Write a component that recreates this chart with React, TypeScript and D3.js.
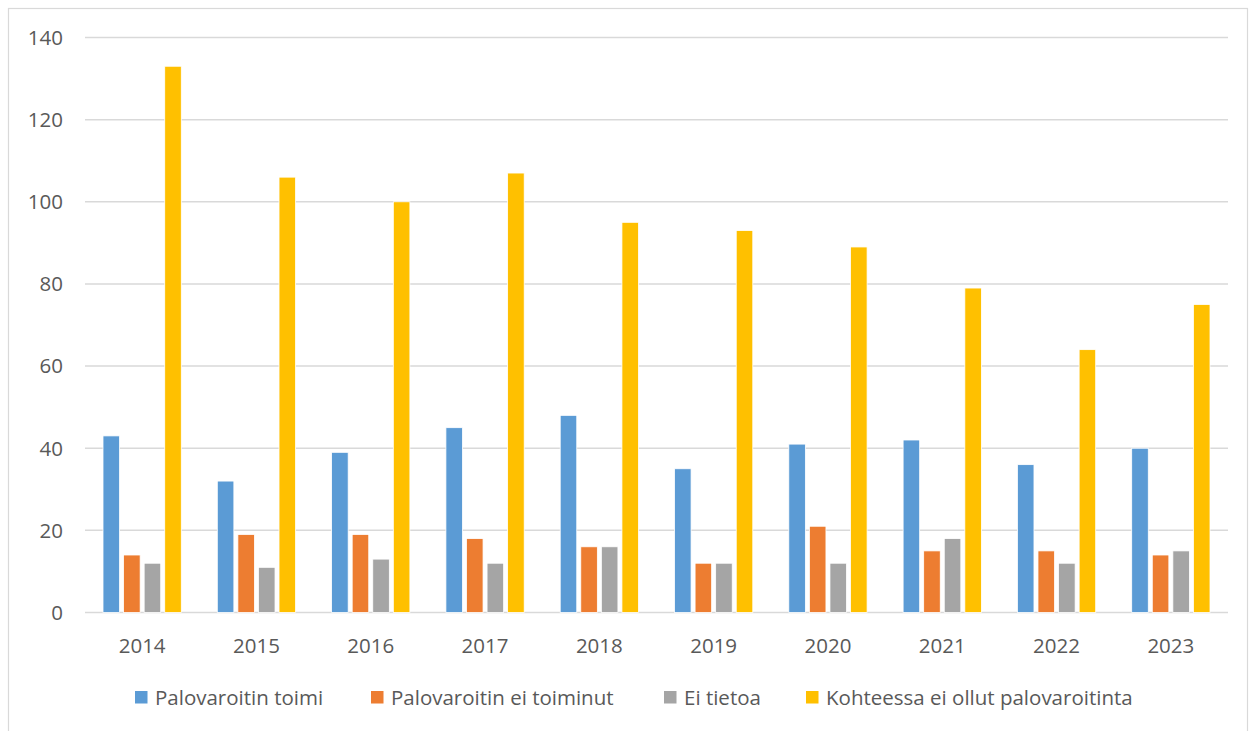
import React from "react";
import * as d3 from "d3";

const years = ["2014", "2015", "2016", "2017", "2018", "2019", "2020", "2021", "2022", "2023"];
const seriesNames = [
  "Palovaroitin toimi",
  "Palovaroitin ei toiminut",
  "Ei tietoa",
  "Kohteessa ei ollut palovaroitinta",
];
const toimi = [43, 32, 39, 45, 48, 35, 41, 42, 36, 40];
const eiToiminut = [14, 19, 19, 18, 16, 12, 21, 15, 15, 14];
const eiTietoa = [12, 11, 13, 12, 16, 12, 12, 18, 12, 15];
const eiOllut = [133, 106, 100, 107, 95, 93, 89, 79, 64, 75];
const yTicks = [0, 20, 40, 60, 80, 100, 120, 140];
const colors = ["#5b9bd5", "#ed7d31", "#a5a5a5", "#ffc000"];

const W = 1250;
const H = 731;
const plotLeft = 85;
const plotRight = 1228;
const plotTop = 37.5;
const plotBottom = 612.5;
const font = "'Open Sans', 'Liberation Sans', sans-serif";
const textColor = "#595959";
const fs = 20.5;

export default function App() {
  const series = [toimi, eiToiminut, eiTietoa, eiOllut];
  const x = d3.scaleBand<string>().domain(years).range([plotLeft, plotRight]).paddingInner(0).paddingOuter(0);
  const y = d3.scaleLinear().domain([0, 140]).range([plotBottom, plotTop]);
  const bw = x.bandwidth();
  const step = bw * 0.18;
  const barW = bw * 0.145;
  const groupW = step * 3 + barW;
  const offset = (bw - groupW) / 2;

  const legendX = [135, 371, 664, 806];

  return (
    <svg
      width={W}
      height={H}
      style={{ position: "absolute", left: 0, top: 0, background: "#fff" }}
      fontFamily={font}
    >
      <rect x={0} y={0} width={W} height={H} fill="#fff" />
      <rect x={8.5} y={8.5} width={1239} height={730} fill="none" stroke="#d9d9d9" strokeWidth={1.2} />
      {yTicks.map((t) => (
        <g key={t}>
          <line x1={plotLeft} x2={plotRight} y1={y(t)} y2={y(t)} stroke="#d9d9d9" strokeWidth={1.5} />
          <text x={63} y={y(t)} dy="0.36em" textAnchor="end" fontSize={fs} fill={textColor}>
            {t}
          </text>
        </g>
      ))}
      {years.map((yr, i) => (
        <g key={yr}>
          {series.map((s, k) => (
            <rect
              key={k}
              x={(x(yr) as number) + offset + k * step}
              y={y(s[i])}
              width={barW}
              height={plotBottom - y(s[i])}
              fill={colors[k]}
              stroke="#fff"
              strokeWidth={0.8}
            />
          ))}
          <text
            x={(x(yr) as number) + bw / 2}
            y={652.5}
            textAnchor="middle"
            fontSize={fs}
            fill={textColor}
          >
            {yr}
          </text>
        </g>
      ))}
      {seriesNames.map((n, k) => (
        <g key={n}>
          <rect x={legendX[k]} y={691} width={12.5} height={12.5} fill={colors[k]} />
          <text x={legendX[k] + 20} y={704.5} fontSize={fs} fill={textColor}>
            {n}
          </text>
        </g>
      ))}
    </svg>
  );
}
